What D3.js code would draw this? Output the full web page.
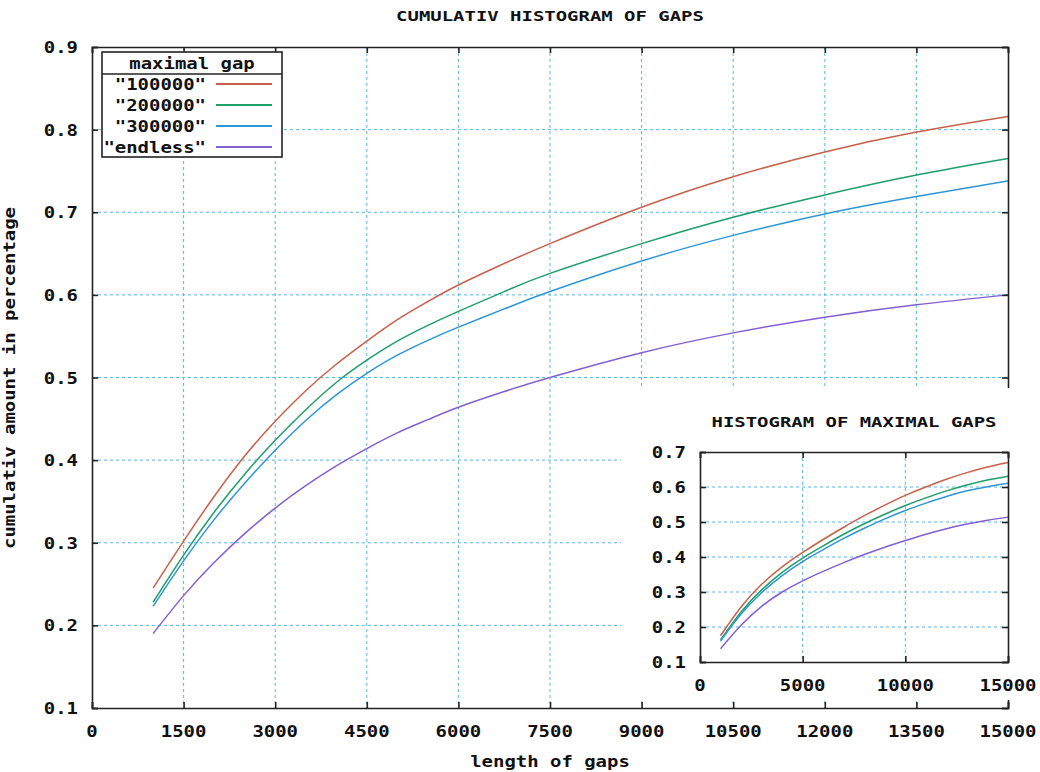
<!DOCTYPE html>
<html>
<head>
<meta charset="utf-8">
<script src="https://cdn.jsdelivr.net/npm/d3@7"></script>
<style>
  body { margin: 0; background: #fff; }
  text { font-family: "DejaVu Sans Mono", monospace; font-weight: bold; fill: #111; }
</style>
</head>
<body>
<div id="container"></div>
<script>
let w = 1040;
let h = 772;

// main plot data
let gapLengths = [1000, 1500, 2000, 2500, 3000, 3500, 4000, 4500, 5000, 5500, 6000, 6750, 7500, 9000, 10500, 12000, 13500, 15000];
let gap100000 = [0.245, 0.302, 0.356, 0.405, 0.447, 0.484, 0.516, 0.544, 0.570, 0.592, 0.612, 0.638, 0.662, 0.706, 0.743, 0.773, 0.797, 0.816];
let gap200000 = [0.228, 0.285, 0.337, 0.383, 0.424, 0.461, 0.494, 0.521, 0.544, 0.563, 0.580, 0.604, 0.626, 0.662, 0.694, 0.721, 0.745, 0.765];
let gap300000 = [0.223, 0.278, 0.328, 0.372, 0.412, 0.448, 0.479, 0.505, 0.527, 0.545, 0.561, 0.583, 0.604, 0.641, 0.672, 0.698, 0.719, 0.738];
let gapEndless = [0.190, 0.236, 0.276, 0.311, 0.342, 0.369, 0.393, 0.414, 0.433, 0.449, 0.464, 0.483, 0.500, 0.530, 0.554, 0.573, 0.588, 0.600];

// inset data
let insetLengths = [1000, 2000, 3000, 4000, 5000, 6000, 7000, 8000, 9000, 10000, 11000, 12000, 13000, 14000, 15000];
let inset100000 = [0.175, 0.257, 0.322, 0.372, 0.413, 0.450, 0.485, 0.518, 0.548, 0.576, 0.600, 0.622, 0.641, 0.657, 0.670];
let inset200000 = [0.163, 0.243, 0.306, 0.356, 0.397, 0.432, 0.465, 0.495, 0.522, 0.547, 0.569, 0.589, 0.606, 0.620, 0.631];
let inset300000 = [0.160, 0.237, 0.298, 0.347, 0.387, 0.421, 0.453, 0.482, 0.509, 0.533, 0.554, 0.573, 0.589, 0.601, 0.611];
let insetEndless = [0.138, 0.205, 0.259, 0.300, 0.332, 0.359, 0.384, 0.407, 0.428, 0.447, 0.465, 0.481, 0.494, 0.505, 0.514];

let seriesNames = ['"100000"', '"200000"', '"300000"', '"endless"'];
let colors = ["#c8604a", "#1e9e6a", "#2e96d8", "#8260d2"];

let mainTicksX = [0, 1500, 3000, 4500, 6000, 7500, 9000, 10500, 12000, 13500, 15000];
let mainTicksY = [0.1, 0.2, 0.3, 0.4, 0.5, 0.6, 0.7, 0.8, 0.9];
let insetTicksX = [0, 5000, 10000, 15000];
let insetTicksY = [0.1, 0.2, 0.3, 0.4, 0.5, 0.6, 0.7];

let gridColor = "#5cb6e2";
let cw = 11.4; // width of one char, font looks like a wide bitmap font

let viz = d3.select("#container")
  .append("svg")
    .attr("width", w)
    .attr("height", h)
    .style("background-color", "white")
;

// helper for stretched text
function label(g, x, y, s, size, anchor){
  return g.append("text")
    .attr("x", x)
    .attr("y", y)
    .attr("text-anchor", anchor || "middle")
    .attr("textLength", s.length*cw)
    .attr("lengthAdjust", "spacingAndGlyphs")
    .style("font-size", size+"px")
    .text(s);
}

function drawPlot(g, x0, x1, y0, y1, xDom, yDom, xTicks, yTicks, xs, ys){
  let xScale = d3.scaleLinear().domain(xDom).range([x0, x1]);
  let yScale = d3.scaleLinear().domain(yDom).range([y0, y1]);

  // grid
  g.selectAll(".vgrid").data(xTicks.slice(1, -1)).enter().append("line")
    .attr("x1", d=>xScale(d)).attr("x2", d=>xScale(d))
    .attr("y1", y1).attr("y2", y0)
    .attr("stroke", gridColor).attr("stroke-dasharray", "3,3");
  g.selectAll(".hgrid").data(yTicks.slice(1, -1)).enter().append("line")
    .attr("y1", d=>yScale(d)).attr("y2", d=>yScale(d))
    .attr("x1", x0).attr("x2", x1)
    .attr("stroke", gridColor).attr("stroke-dasharray", "3,3");

  // curves
  let line = d3.line().x((d,i)=>xScale(xs[i])).y(d=>yScale(d)).curve(d3.curveNatural);
  ys.forEach((s,i)=>{
    g.append("path")
      .attr("d", line(s))
      .attr("fill", "none")
      .attr("stroke", colors[i])
      .attr("stroke-width", 1.5);
  });

  // axes, ticks on all four sides like gnuplot
  let fmtY = d3.format(".1f");
  g.append("g").attr("transform", "translate(0,"+y0+")")
    .call(d3.axisBottom(xScale).tickValues(xTicks).tickSize(-6).tickFormat(""));
  g.append("g").attr("transform", "translate(0,"+y1+")")
    .call(d3.axisTop(xScale).tickValues(xTicks).tickSize(-6).tickFormat(""));
  g.append("g").attr("transform", "translate("+x0+",0)")
    .call(d3.axisLeft(yScale).tickValues(yTicks).tickSize(-6).tickFormat(""));
  g.append("g").attr("transform", "translate("+x1+",0)")
    .call(d3.axisRight(yScale).tickValues(yTicks).tickSize(-6).tickFormat(""));
  g.selectAll(".domain, .tick line").attr("stroke", "#222").attr("stroke-width", 1.6);

  xTicks.forEach(t=>{ label(g, xScale(t), y0+29, String(t), 16); });
  yTicks.forEach(t=>{ label(g, x0-14, yScale(t)+6, fmtY(t), 16, "end"); });
  return {xScale, yScale};
}

// main plot
let mainG = viz.append("g");
drawPlot(mainG, 92, 1008, 708, 47, [0, 15000], [0.1, 0.9], mainTicksX, mainTicksY,
  gapLengths, [gap100000, gap200000, gap300000, gapEndless]);

label(viz, 550, 21, "CUMULATIV HISTOGRAM OF GAPS", 14);
label(viz, 550, 767, "length of gaps", 16);
label(viz, 0, 0, "cumulativ amount in percentage", 16)
  .attr("transform", "translate(15,378) rotate(-90)");

// legend
let leg = viz.append("g");
leg.append("rect").attr("x", 102).attr("y", 52).attr("width", 180).attr("height", 105)
  .attr("fill", "white").attr("stroke", "#222").attr("stroke-width", 1.6);
leg.append("line").attr("x1", 102).attr("x2", 282).attr("y1", 74).attr("y2", 74)
  .attr("stroke", "#222").attr("stroke-width", 1.6);
label(leg, 192, 69, "maximal gap", 16);
seriesNames.forEach((n,i)=>{
  let y = 84 + i*21;
  label(leg, 206, y+6, n, 16, "end");
  leg.append("line").attr("x1", 216).attr("x2", 272).attr("y1", y).attr("y2", y)
    .attr("stroke", colors[i]).attr("stroke-width", 1.8);
});

// inset
let insetG = viz.append("g");
insetG.append("rect").attr("x", 621).attr("y", 388).attr("width", 419).attr("height", 312)
  .attr("fill", "white");
drawPlot(insetG, 700, 1008, 662, 452, [0, 15000], [0.1, 0.7], insetTicksX, insetTicksY,
  insetLengths, [inset100000, inset200000, inset300000, insetEndless]);
label(insetG, 854, 427, "HISTOGRAM OF MAXIMAL GAPS", 14);
</script>
</body>
</html>
